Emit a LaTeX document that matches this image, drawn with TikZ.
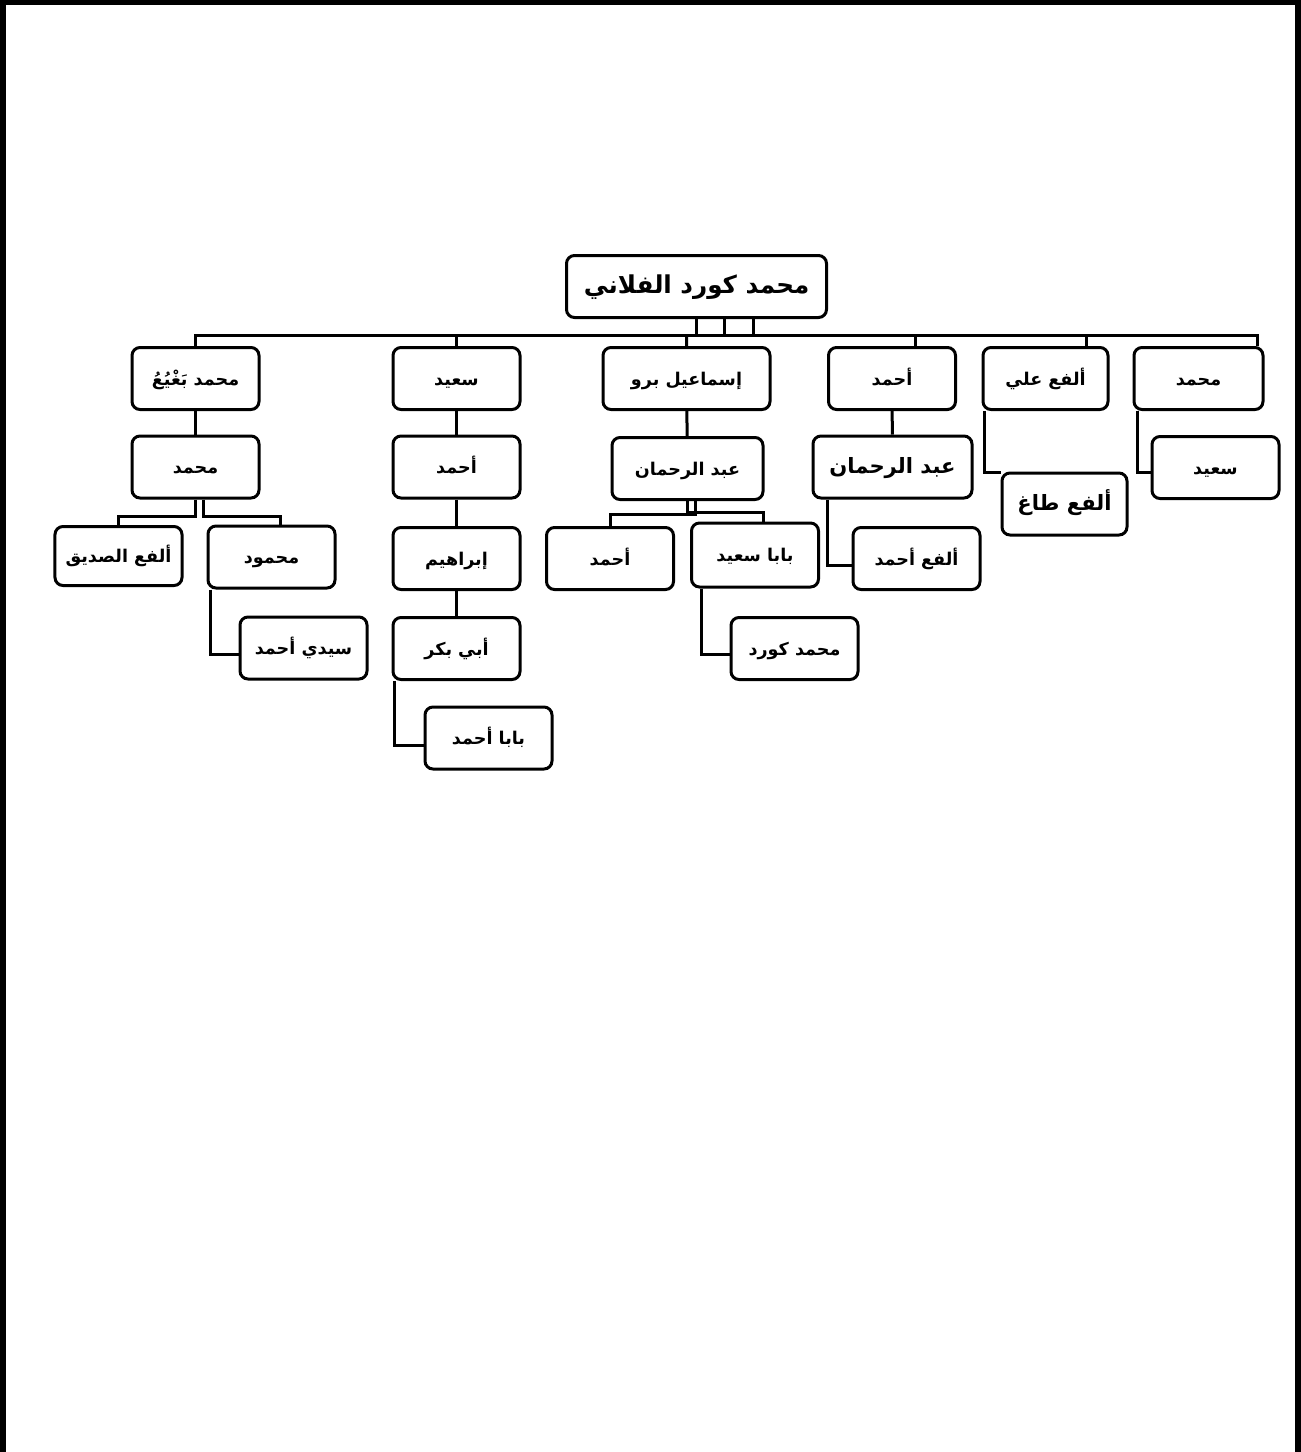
\documentclass[tikz,border=0pt]{standalone}
\usepackage{fontspec}
\newfontfamily\arabicfont[Script=Arabic]{DejaVu Sans}
\TeXXeTstate=1
\usepackage{tikz}
\usetikzlibrary{calc}
\newcommand{\ar}[1]{\beginR #1\endR}
\tikzset{
    person/.style={rectangle, rounded corners=1.6mm, draw=black, line width=0.6mm, align=center, fill=white,
        font=\arabicfont\bfseries\fontsize{10}{12}\selectfont, text height=2.2ex, text depth=0.4ex,
        minimum width=25.4mm, minimum height=12.4mm, inner sep=2pt},
    bigperson/.style={person, font=\arabicfont\bfseries\fontsize{12}{14}\selectfont},
    link/.style={line width=0.6mm},
    frame/.style={line width=1.2mm}
}

\begin{document}
\begin{tikzpicture}[x=0.2mm, y=-0.2mm]
    \useasboundingbox (0,0) rectangle (1300,1452);
    \draw[frame] (2.5,1470) -- (2.5,1.5) -- (1297.5,1.5) -- (1297.5,1470);

    % root and first generation
    \node[person, font=\arabicfont\bfseries\fontsize{14}{16}\selectfont, minimum width=52mm] (root) at (696.5,286.5) {\ar{محمد كورد الفلاني}};
    \node[person] (bagh) at (195.5,378.5) {\ar{محمد بَغْيُعُ}};
    \node[person] (said1) at (456.5,378.5) {\ar{سعيد}};
    \node[person, minimum width=33.4mm] (ismail) at (686.5,378.5) {\ar{إسماعيل برو}};
    \node[person] (ahmad1) at (892,378.5) {\ar{أحمد}};
    \node[person, minimum width=25mm] (alfaali) at (1045.5,378.5) {\ar{ألفع علي}};
    \node[person, minimum width=25.8mm] (muhammad1) at (1198.5,378.5) {\ar{محمد}};

    % second generation
    \node[person] (muh2) at (195.5,467) {\ar{محمد}};
    \node[person] (ahmad2) at (456.5,467) {\ar{أحمد}};
    \node[person, minimum width=30.2mm] (abdr1) at (687.5,468.5) {\ar{عبد الرحمان}};
    \node[bigperson, minimum width=31.8mm] (abdr2) at (892.5,467) {\ar{عبد الرحمان}};
    \node[bigperson, minimum width=25mm] (alfataagh) at (1064.5,504) {\ar{ألفع طاغ}};
    \node[person] (said2) at (1215.5,467.5) {\ar{سعيد}};

    % third generation
    \node[person, minimum height=11.8mm] (alfasiddiq) at (118.5,556) {\ar{ألفع الصديق}};
    \node[person] (mahmud) at (271.5,557) {\ar{محمود}};
    \node[person] (ibrahim) at (456.5,558.5) {\ar{إبراهيم}};
    \node[person] (ahmad3) at (610,558.5) {\ar{أحمد}};
    \node[person, minimum height=12.8mm] (babasaid) at (755,555) {\ar{بابا سعيد}};
    \node[person] (alfaahmad) at (916.5,558.5) {\ar{ألفع أحمد}};

    % fourth and fifth generation
    \node[person] (sidiahmad) at (303.5,648) {\ar{سيدي أحمد}};
    \node[person] (abibakr) at (456.5,648.5) {\ar{أبي بكر}};
    \node[person] (muhkurd) at (794.5,648.5) {\ar{محمد كورد}};
    \node[person] (babaahmad) at (488.5,738) {\ar{بابا أحمد}};

    % bus under the root
    \coordinate (busL) at (195.5,335);
    \coordinate (busR) at (1257,335);
    \draw[link] (busL) -- (busR);
    \draw[link] (root.south) -- ++(0,17);
    \draw[link] ([xshift=5.6mm]root.south) -- ++(0,17);
    \draw[link] ([xshift=11.3mm]root.south) -- ++(0,17);
    \draw[link] (bagh.north) -- ++(0,-12);
    \draw[link] (said1.north) -- ++(0,-12);
    \draw[link] ([xshift=-2mm]root.south |- busL) -- (ismail.north);
    \draw[link] ([xshift=4.6mm]ahmad1.north) -- ++(0,-12);
    \draw[link] ([xshift=8.1mm]alfaali.north) -- ++(0,-12);
    \draw[link] ([xshift=11.7mm]muhammad1.north) -- ++(0,-12);

    % left branch
    \draw[link] (bagh) -- (muh2);
    \draw[link] (muh2.south) -- ++(0,17) -| (alfasiddiq.north);
    \draw[link] ([xshift=1.5mm]muh2.south) -- ++(0,17) -| ([xshift=1.7mm]mahmud.north);
    \draw[link] ([xshift=0.8mm]mahmud.south west) |- ([yshift=-1.2mm]sidiahmad.west);

    % said branch
    \draw[link] (said1) -- (ahmad2);
    \draw[link] (ahmad2) -- (ibrahim);
    \draw[link] (ibrahim) -- (abibakr);
    \draw[link] ([xshift=0.6mm]abibakr.south west) |- ([yshift=-1.4mm]babaahmad.west);

    % ismail branch
    \draw[link] (ismail) -- (abdr1);
    \draw[link] ([xshift=1.5mm]abdr1.south) -- ++(0,13) -| (ahmad3.north);
    \draw[link] ([xshift=-0.1mm]abdr1.south) -- ++(0,11) -| ([xshift=1.6mm]babasaid.north);
    \draw[link] ([xshift=2.2mm]babasaid.south west) |- ([yshift=-1.1mm]muhkurd.west);

    % right branches
    \draw[link] (ahmad1) -- (abdr2);
    \draw[link] ([xshift=3.2mm]abdr2.south west) |- ([yshift=-1.3mm]alfaahmad.west);
    \draw[link] ([xshift=0.6mm]alfaali.south west) |- ([yshift=-0.2mm]alfataagh.north west);
    \draw[link] ([xshift=1mm]muhammad1.south west) |- ([yshift=-1mm]said2.west);
\end{tikzpicture}
\end{document}
